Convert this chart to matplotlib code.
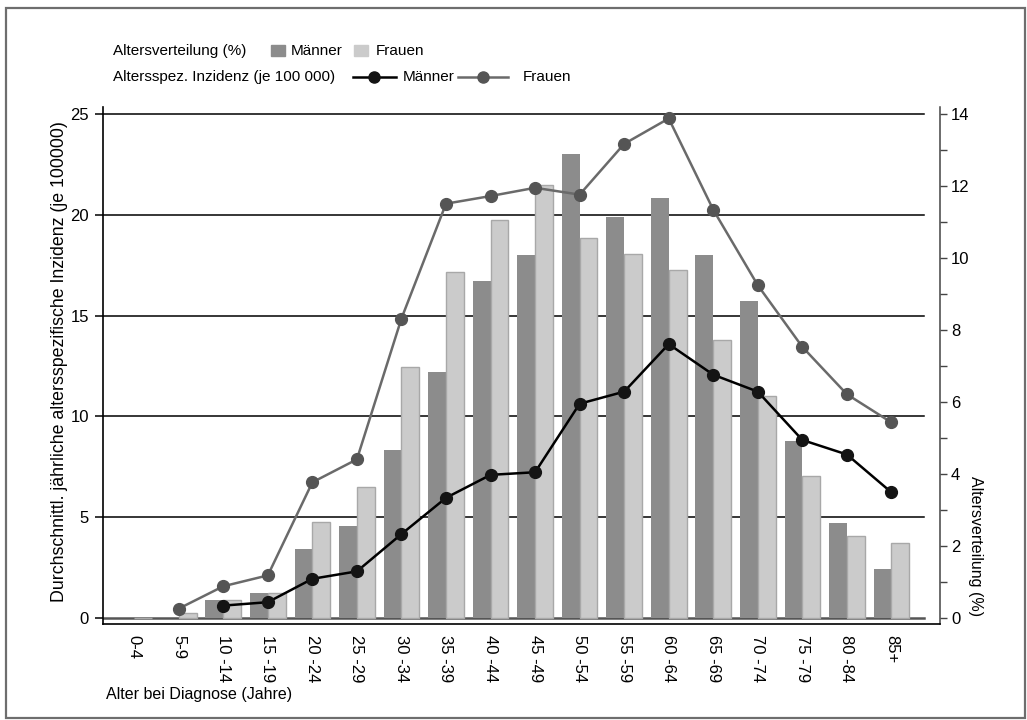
import matplotlib
matplotlib.use("Agg")
import matplotlib.pyplot as plt
import numpy as np
from matplotlib.patches import Rectangle
from matplotlib.lines import Line2D
from matplotlib.ticker import MultipleLocator

# ---------------- data ----------------
categories = ["0-4", "5-9", "10 -14", "15 -19", "20 -24", "25 -29", "30 -34", "35 -39",
              "40 -44", "45 -49", "50 -54", "55 -59", "60 -64", "65 -69", "70 -74",
              "75 -79", "80 -84", "85+"]
# Altersverteilung (%)
dist_men = [0, 0, 0.50, 0.70, 1.90, 2.54, 4.66, 6.84, 9.37, 10.07, 12.89, 11.13,
            11.68, 10.07, 8.80, 4.92, 2.62, 1.34]
dist_women = [0, 0.14, 0.50, 0.70, 2.66, 3.64, 6.96, 9.61, 11.05, 12.04, 10.56, 10.11,
              9.67, 7.73, 6.16, 3.95, 2.28, 2.09]
# Altersspez. Inzidenz (je 100 000)
inc_men = [np.nan, np.nan, 0.60, 0.77, 1.93, 2.30, 4.15, 5.95, 7.09, 7.22, 10.62, 11.22,
           13.58, 12.06, 11.22, 8.82, 8.10, 6.22]
inc_women = [np.nan, 0.45, 1.56, 2.10, 6.72, 7.86, 14.85, 20.55, 20.93, 21.34, 21.0, 23.52,
             24.78, 20.25, 16.50, 13.44, 11.09, 9.69]
left_ticks = [0, 5, 10, 15, 20, 25]
right_ticks = [0, 2, 4, 6, 8, 10, 12, 14]

FONT = ["Liberation Sans", "DejaVu Sans"]
plt.rcParams["font.family"] = FONT
FS = 11
FS_TICK = 12

C_MEN_BAR = "#8c8c8c"
C_WOM_BAR = "#cbcbcb"
C_WOM_EDGE = "#a8a8a8"
C_MEN_LINE = "#000000"
C_MEN_MK = "#141414"
C_WOM_LINE = "#6a6a6a"
C_WOM_MK = "#555555"

W, H = 1027, 720
fig = plt.figure(figsize=(W / 100, H / 100), dpi=100)

def fx(px):
    return px / W

def fy(py):
    return 1 - py / H

ax = fig.add_axes([fx(103), fy(624), fx(940) - fx(103), fy(107) - fy(624)])
ax2 = ax.twinx()

x = np.arange(len(categories))
bw = 0.40

# gridlines (in left-axis units, drawn on bottom axes beneath bars)
LEFT_MAX = 25.0
RIGHT_MAX = 14.0
conv = RIGHT_MAX / LEFT_MAX
for v in left_ticks:
    if v == 0:
        ax.axhline(v * conv, xmin=0, xmax=0.981, color="#555555", lw=1.8, zorder=0.5)
    else:
        ax.axhline(v * conv, xmin=0, xmax=0.981, color="#000000", lw=1.1, zorder=0.5)

# bars (right axis)
ax.bar(x - bw / 2, dist_men, width=bw, color=C_MEN_BAR, edgecolor="none", zorder=2)
ax.bar(x + bw / 2, dist_women, width=bw, color=C_WOM_BAR, edgecolor=C_WOM_EDGE,
       linewidth=1.0, zorder=2)

# lines (left axis)
ax2.plot(x, inc_women, color=C_WOM_LINE, lw=1.8, marker="o", ms=8.5,
         mfc=C_WOM_MK, mec=C_WOM_MK, zorder=3)
ax2.plot(x, inc_men, color=C_MEN_LINE, lw=1.8, marker="o", ms=8.5,
         mfc=C_MEN_MK, mec=C_MEN_MK, zorder=4)

# limits
ax.set_xlim(-0.70, 18.09)
ylo, yhi = -0.313, 25.35
ax2.set_ylim(ylo, yhi)
ax.set_ylim(ylo * conv, yhi * conv)

# axis placement: left axis = incidence (ax2), right axis = distribution (ax)
ax.yaxis.tick_right()
ax2.yaxis.tick_left()
ax2.yaxis.set_label_position("left")

ax2.set_yticks(left_ticks)
ax2.set_yticklabels([str(v) for v in left_ticks], fontsize=FS_TICK)
ax2.tick_params(axis="y", direction="out", length=6, width=1.1, pad=4, color="#000000")

ax.set_yticks(right_ticks)
ax.set_yticklabels([str(v) for v in right_ticks], fontsize=FS_TICK)
ax.yaxis.set_minor_locator(MultipleLocator(1))
ax.tick_params(axis="y", which="major", direction="out", length=5, width=1.0, pad=3,
               color="#444444")
ax.tick_params(axis="y", which="minor", direction="out", length=5, width=1.0,
               color="#444444")

ax.set_xticks(x)
ax.set_xticklabels(categories, rotation=270, fontsize=FS_TICK, va="top", ha="center")
ax.tick_params(axis="x", length=0, pad=8)
ax2.tick_params(axis="x", length=0)

for a in (ax, ax2):
    a.spines["top"].set_visible(False)
ax2.spines["bottom"].set_visible(False)
ax2.spines["right"].set_visible(False)
ax.spines["left"].set_visible(False)
ax2.spines["left"].set_color("#000000")
ax2.spines["left"].set_linewidth(1.2)
ax.spines["bottom"].set_color("#000000")
ax.spines["bottom"].set_linewidth(1.2)
ax.spines["right"].set_color("#444444")
ax.spines["right"].set_linewidth(1.1)
ax2.patch.set_visible(False)

# axis titles
fig.text(fx(60), fy(362), "Durchschnittl. jährliche altersspezifische Inzidenz (je 100000)",
         rotation=90, ha="center", va="center", fontsize=12.8, family=FONT)
fig.text(fx(976), fy(476), "Altersverteilung (%)", rotation=270, ha="center", va="top",
         fontsize=11.5, family=FONT)
fig.text(fx(106), fy(695), "Alter bei Diagnose (Jahre)", ha="left", va="center",
         fontsize=11.5, family=FONT)

# legend (drawn in figure pixel space)
lg = fig.add_axes([0, 0, 1, 1], zorder=10)
lg.set_xlim(0, W)
lg.set_ylim(H, 0)
lg.axis("off")
r1, r2 = 51, 77
lg.text(113, r1, "Altersverteilung (%)", ha="left", va="center", fontsize=FS)
lg.add_patch(Rectangle((271, r1 - 6), 14, 11, color=C_MEN_BAR))
lg.text(291, r1, "Männer", ha="left", va="center", fontsize=FS)
lg.add_patch(Rectangle((354, r1 - 6), 14, 11, color=C_WOM_BAR))
lg.text(376, r1, "Frauen", ha="left", va="center", fontsize=FS)
lg.text(113, r2, "Altersspez. Inzidenz (je 100 000)", ha="left", va="center", fontsize=FS)
lg.add_line(Line2D([353, 396], [r2, r2], color=C_MEN_LINE, lw=1.8))
lg.add_line(Line2D([374], [r2], marker="o", ms=8, mfc=C_MEN_MK, mec=C_MEN_MK, lw=0))
lg.text(403, r2, "Männer", ha="left", va="center", fontsize=FS)
lg.add_line(Line2D([458, 508], [r2, r2], color=C_WOM_LINE, lw=1.8))
lg.add_line(Line2D([483], [r2], marker="o", ms=8, mfc=C_WOM_MK, mec=C_WOM_MK, lw=0))
lg.text(523, r2, "Frauen", ha="left", va="center", fontsize=FS)

# outer frame
lg.add_patch(Rectangle((6, 8), 1019, 710, fill=False, edgecolor="#6e6e6e", lw=1.6))

fig.savefig("out.png", dpi=100)
